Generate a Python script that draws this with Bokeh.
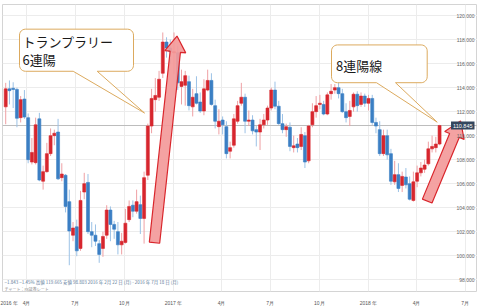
import math
import pandas as pd
from bokeh.plotting import figure
from bokeh.models import Range1d, FixedTicker, Span, Label, ColumnDataSource
from bokeh.embed import file_html
from bokeh.resources import INLINE

# ---------------- data (USD/JPY weekly) ----------------
first_week = "2016-02-22"
opens = [112.4, 113.9, 113.95, 113.85, 111.5, 113.05, 111.5, 107.8, 107.75, 111.4,
         106.2, 107.0, 108.5, 110.0, 110.3, 106.5, 106.7, 104.5, 101.7, 102.4,
         100.6, 105.3, 106.1, 102.0, 101.7, 101.0, 100.6, 101.7, 103.8, 102.6,
         102.0, 100.9, 101.1, 103.0, 104.2, 103.7, 104.25, 103.1, 106.7, 110.8,
         113.0, 113.2, 115.2, 117.8, 117.3, 116.9, 116.9, 114.1, 114.2, 114.5,
         112.4, 113.5, 112.8, 112.05, 113.8, 114.6, 112.5, 110.75, 111.3, 110.75,
         108.7, 109.2, 111.2, 112.7, 113.2, 111.2, 111.3, 110.5, 110.3, 110.9,
         111.3, 112.3, 113.8, 112.45, 111.0, 110.5, 110.7, 109.0, 109.3, 109.1,
         110.0, 107.9, 110.9, 112.0, 112.6, 112.6, 111.8, 113.5, 113.8, 114.0,
         113.5, 112.0, 111.6, 112.4, 113.45, 112.6, 113.3, 112.7, 113.1, 111.1,
         110.5, 108.5, 110.0, 108.5, 106.15, 106.75, 105.85, 106.55, 106.0, 104.6,
         106.2, 106.9, 107.2, 107.65, 108.9, 109.0, 109.3]
highs = [114.4, 114.6, 114.45, 114.0, 113.3, 113.8, 111.85, 109.8, 111.5, 111.9,
         107.5, 109.4, 110.6, 110.5, 111.4, 107.7, 106.8, 105.5, 102.8, 103.0,
         105.4, 106.9, 106.8, 102.8, 102.6, 101.3, 102.0, 104.2, 104.1, 102.9,
         102.8, 101.9, 103.9, 104.6, 104.6, 105.5, 105.0, 107.0, 111.0, 113.9,
         114.8, 115.4, 118.6, 118.2, 118.0, 118.6, 117.5, 115.5, 115.4, 115.0,
         113.9, 114.95, 113.6, 114.7, 115.5, 115.2, 113.0, 112.2, 111.6, 111.2,
         109.5, 111.8, 112.9, 114.4, 113.5, 112.1, 111.7, 110.8, 111.4, 111.8,
         112.5, 114.0, 114.5, 112.9, 111.8, 111.0, 111.1, 110.0, 109.8, 110.7,
         110.3, 110.9, 112.7, 113.3, 113.4, 112.9, 113.6, 114.3, 114.3, 114.7,
         113.9, 112.7, 112.9, 113.6, 113.7, 113.6, 113.5, 113.4, 113.4, 111.5,
         111.2, 110.5, 110.5, 108.9, 107.9, 107.7, 107.0, 107.3, 106.6, 107.0,
         107.5, 107.8, 108.0, 109.5, 110.0, 109.9, 110.9]
lows = [110.95, 112.6, 112.3, 110.7, 111.1, 111.4, 107.7, 107.6, 107.6, 106.2,
        105.5, 106.9, 108.3, 109.2, 106.3, 106.2, 103.6, 99.2, 101.2, 99.95,
        100.4, 104.7, 101.8, 100.7, 100.8, 99.4, 99.9, 101.4, 101.2, 101.4,
        100.1, 100.1, 101.0, 102.8, 103.2, 103.5, 101.8, 101.0, 106.3, 110.2,
        112.0, 112.9, 114.8, 116.5, 116.0, 115.1, 113.8, 112.6, 112.5, 112.1,
        111.6, 112.6, 111.9, 111.7, 113.7, 112.5, 110.6, 110.1, 110.1, 108.1,
        108.1, 109.0, 111.0, 112.5, 110.2, 110.8, 110.1, 109.1, 108.8, 110.6,
        110.9, 112.1, 112.2, 110.9, 110.2, 109.9, 108.7, 108.6, 108.6, 108.8,
        107.3, 107.7, 110.7, 111.5, 112.2, 111.7, 111.7, 113.0, 113.5, 113.1,
        111.9, 111.1, 110.8, 112.0, 112.0, 112.4, 112.4, 112.1, 110.9, 110.2,
        108.3, 108.3, 108.0, 105.9, 105.9, 105.3, 105.3, 105.6, 104.6, 104.5,
        105.7, 106.6, 106.9, 107.5, 108.6, 108.6, 109.2]
closes = [113.9, 113.75, 113.85, 111.45, 113.0, 111.55, 108.0, 108.6, 110.9, 106.3,
          107.0, 108.5, 110.0, 110.2, 106.4, 106.8, 104.1, 102.05, 102.3, 100.4,
          104.6, 106.0, 102.0, 101.7, 101.2, 100.1, 101.6, 103.8, 102.6, 102.2,
          100.9, 101.2, 102.7, 104.1, 103.7, 104.5, 103.1, 106.5, 110.8, 113.1,
          113.35, 114.7, 117.8, 117.3, 117.0, 117.0, 114.4, 114.5, 115.0, 112.5,
          113.2, 112.7, 112.05, 113.9, 114.6, 112.6, 111.2, 111.2, 110.9, 108.5,
          109.0, 111.4, 112.5, 113.2, 111.2, 111.3, 110.4, 110.3, 110.9, 111.3,
          112.3, 113.8, 112.45, 111.0, 110.5, 110.75, 109.1, 109.15, 109.0, 110.1,
          107.8, 110.8, 112.0, 112.5, 112.7, 111.8, 113.4, 113.7, 114.0, 113.5,
          112.0, 111.5, 112.1, 113.45, 112.5, 113.3, 112.7, 113.1, 111.1, 110.8,
          108.5, 110.0, 108.4, 106.2, 106.75, 105.6, 106.6, 105.9, 104.7, 106.15,
          106.9, 107.3, 107.55, 108.9, 109.1, 109.3, 110.845]

ytick_values = [98, 100, 102, 104, 106, 108, 110, 112, 114, 116, 118, 120]
xtick_dates = ["2016-02-28", "2016-04-01", "2016-07-01", "2016-10-01", "2017-01-01",
               "2017-04-01", "2017-07-01", "2017-10-01", "2018-01-01", "2018-04-01",
               "2018-07-01"]
xtick_labels = ["2016 年", "4月", "7月", "10月", "2017 年", "4月", "7月", "10月",
                "2018 年", "4月", "7月"]

callout1_lines = ["トランプラリー", "6連陽"]
callout2_text = "8連陽線"
info_text = "−1.843   −1.45%   高値 119.665   安値 98.803   2016 年 2月 22 日 (月) - 2016 年 7月 18 日 (月)"
source_text = "チャート：FX証券レート"

# ---------------- layout ----------------
W, H = 477, 308
FL, FR, FT, FB = 2, 477, 4, 295          # frame edges in pixels
X_START = pd.Timestamp("2016-02-16")
X_END = pd.Timestamp("2018-07-24")
Y_LO, Y_HI = 97.01, 120.93

def ms(d):
    return int(pd.Timestamp(d).value // 1_000_000)

XS, XE = ms(X_START), ms(X_END)
MS_PER_PX = (XE - XS) / (FR - FL)
Y_PER_PX = (Y_HI - Y_LO) / (FB - FT)

def px2x(px):
    return XS + (px - FL) * MS_PER_PX

def py2y(py):
    return Y_HI - (py - FT) * Y_PER_PX

p = figure(width=W, height=H, x_axis_type="datetime", y_axis_location=None,
           x_range=Range1d(XS, XE), y_range=Range1d(Y_LO, Y_HI),
           output_backend="svg", toolbar_location=None,
           min_border_left=FL, min_border_right=W - FR, min_border_top=FT,
           min_border_bottom=H - FB)
p.background_fill_color = "white"
p.border_fill_color = "white"
p.outline_line_color = "#d4d4d4"

# grids
tick_ms = [ms(d) for d in xtick_dates]
p.xgrid.ticker = FixedTicker(ticks=tick_ms[1:])
p.ygrid.ticker = FixedTicker(ticks=ytick_values)
p.xgrid.grid_line_color = "#ececec"
p.ygrid.grid_line_color = "#ececec"

# x axis
p.xaxis.ticker = FixedTicker(ticks=tick_ms)
p.xaxis.major_label_overrides = {t: l for t, l in zip(tick_ms, xtick_labels)}
p.xaxis.axis_line_color = None
p.xaxis.major_tick_line_color = None
p.xaxis.minor_tick_line_color = None
p.xaxis.major_label_text_font_size = "5px"
p.xaxis.major_label_text_color = "#555555"
p.xaxis.major_label_standoff = 2

# current price line
p.add_layout(Span(location=closes[-1], dimension="width", line_color="#bdbdbd",
                  line_width=1, level="underlay"))

# candles
dates = pd.date_range(first_week, periods=len(opens), freq="7D")
UP, DN = "#d7262e", "#3b7fc4"
UPW, DNW = "#efa0a4", "#9cc2e6"
up = [c >= o for o, c in zip(opens, closes)]
src = ColumnDataSource(dict(
    x=dates, o=opens, h=highs, l=lows, c=closes,
    top=[max(o, c) for o, c in zip(opens, closes)],
    bot=[min(o, c) for o, c in zip(opens, closes)],
    col=[UP if u else DN for u in up],
    wcol=[UPW if u else DNW for u in up],
))
p.segment(x0="x", y0="l", x1="x", y1="h", line_color="wcol", line_width=1, source=src)
p.vbar(x="x", width=5.6 * 86400000, top="top", bottom="bot",
       fill_color="col", line_color="col", line_width=0.6, source=src)

# arrows
def arrow(tail, tip, half_shaft, half_head, head_len):
    tx, ty = tail
    hx, hy = tip
    L = math.hypot(hx - tx, hy - ty)
    ux, uy = (hx - tx) / L, (hy - ty) / L
    nx, ny = -uy, ux
    bx, by = hx - head_len * ux, hy - head_len * uy
    pts = [(tx - half_shaft * nx, ty - half_shaft * ny),
           (bx - half_shaft * nx, by - half_shaft * ny),
           (bx - half_head * nx, by - half_head * ny),
           (hx, hy),
           (bx + half_head * nx, by + half_head * ny),
           (bx + half_shaft * nx, by + half_shaft * ny),
           (tx + half_shaft * nx, ty + half_shaft * ny)]
    return [px2x(a) for a, _ in pts], [py2y(b) for _, b in pts]

for tail, tip in [((154, 245.5), (176.5, 36)), ((426.7, 203.3), (460, 122))]:
    ax, ay = arrow(tail, tip, 5.2, 10.5, 16)
    p.patch(ax, ay, fill_color="#f39a9a", fill_alpha=0.92,
            line_color="#d9262c", line_width=1.2)

# callouts
def callout(x0, y0, x1, y1, r, b0, b1, tip):
    pts = []
    def arc(cx, cy, a0, a1):
        for k in range(7):
            a = math.radians(a0 + (a1 - a0) * k / 6)
            pts.append((cx + r * math.cos(a), cy + r * math.sin(a)))
    arc(x0 + r, y0 + r, 180, 270)
    arc(x1 - r, y0 + r, 270, 360)
    arc(x1 - r, y1 - r, 0, 90)
    pts += [(b1, y1), tip, (b0, y1)]
    arc(x0 + r, y1 - r, 90, 180)
    return [px2x(a) for a, _ in pts], [py2y(b) for _, b in pts]

for geo in [(19, 29, 133, 71.7, 6, 72.7, 96.7, (144, 114)),
            (331, 45, 426.7, 83.3, 6, 376, 395, (436.7, 123.3))]:
    cx, cy = callout(*geo)
    p.patch(cx, cy, fill_color="white", line_color="#dcaa5e", line_width=1)

JP = "Noto Sans CJK JP"
for txt, py in zip(callout1_lines, [41.7, 59.5]):
    p.add_layout(Label(x=px2x(22), y=py2y(py), text=txt, text_font=JP,
                       text_font_size="13px", text_color="#1a1a1a",
                       text_baseline="middle", text_align="left"))
p.add_layout(Label(x=px2x(335.5), y=py2y(65.7), text=callout2_text, text_font=JP,
                   text_font_size="13px", text_color="#1a1a1a",
                   text_baseline="middle", text_align="left"))

# info texts
p.add_layout(Label(x=px2x(4), y=py2y(285.7), text=info_text, text_font=JP,
                   text_font_size="4.5px", text_color="#5d7a99",
                   text_baseline="middle"))
p.add_layout(Label(x=px2x(4), y=py2y(292.3), text=source_text, text_font=JP,
                   text_font_size="4px", text_color="#8a8a8a",
                   text_baseline="middle"))

# right price scale labels
for v in ytick_values:
    p.add_layout(Label(x=XE, y=v, x_offset=-3, text=f"{v:.3f}",
                       text_font_size="5px", text_color="#666666",
                       text_align="right", text_baseline="middle"))
p.add_layout(Label(x=XE, y=closes[-1], x_offset=-3, text=f"{closes[-1]:.3f}",
                   text_font_size="5.5px", text_color="white",
                   text_align="right", text_baseline="middle",
                   background_fill_color="#34475e", padding=2))

open("out.html", "w").write(file_html(p, INLINE))
